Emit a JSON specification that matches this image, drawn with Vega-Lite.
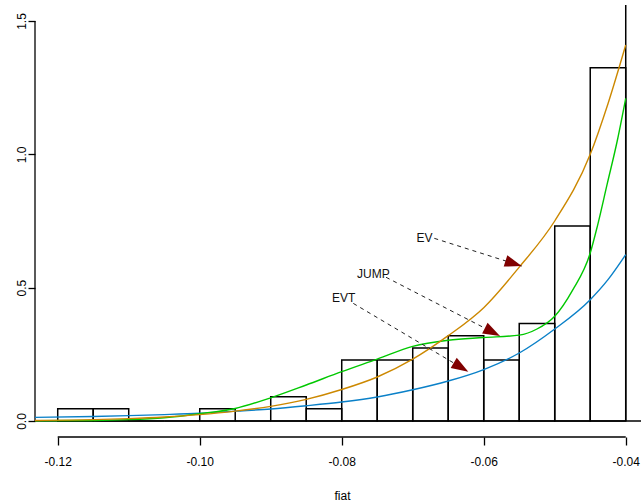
{
  "$schema": "https://vega.github.io/schema/vega-lite/v6.json",
  "width": 606,
  "height": 432,
  "autosize": {"type": "none"},
  "padding": {"left": 35, "top": 5, "right": 0, "bottom": 67},
  "background": "white",
  "config": {"font": "Liberation Sans", "view": {"stroke": null}, "axis": {"grid": false}},
  "datasets": {
    "hist": [
      {"x0": -0.120, "x1": -0.115, "density": 0.0457},
      {"x0": -0.115, "x1": -0.110, "density": 0.0457},
      {"x0": -0.110, "x1": -0.105, "density": 0},
      {"x0": -0.105, "x1": -0.100, "density": 0},
      {"x0": -0.100, "x1": -0.095, "density": 0.0457},
      {"x0": -0.095, "x1": -0.090, "density": 0},
      {"x0": -0.090, "x1": -0.085, "density": 0.0914},
      {"x0": -0.085, "x1": -0.080, "density": 0.0457},
      {"x0": -0.080, "x1": -0.075, "density": 0.2284},
      {"x0": -0.075, "x1": -0.070, "density": 0.2284},
      {"x0": -0.070, "x1": -0.065, "density": 0.2741},
      {"x0": -0.065, "x1": -0.060, "density": 0.3198},
      {"x0": -0.060, "x1": -0.055, "density": 0.2284},
      {"x0": -0.055, "x1": -0.050, "density": 0.3654},
      {"x0": -0.050, "x1": -0.045, "density": 0.7310},
      {"x0": -0.045, "x1": -0.040, "density": 1.3247}
    ],
    "curves": [
      {"model": "EVT", "x": -0.1232, "y": 0.0135},
      {"model": "EVT", "x": -0.115, "y": 0.017},
      {"model": "EVT", "x": -0.110, "y": 0.020},
      {"model": "EVT", "x": -0.105, "y": 0.024},
      {"model": "EVT", "x": -0.100, "y": 0.029},
      {"model": "EVT", "x": -0.095, "y": 0.037},
      {"model": "EVT", "x": -0.090, "y": 0.045},
      {"model": "EVT", "x": -0.085, "y": 0.057},
      {"model": "EVT", "x": -0.080, "y": 0.071},
      {"model": "EVT", "x": -0.075, "y": 0.090},
      {"model": "EVT", "x": -0.070, "y": 0.117},
      {"model": "EVT", "x": -0.065, "y": 0.150},
      {"model": "EVT", "x": -0.060, "y": 0.193},
      {"model": "EVT", "x": -0.055, "y": 0.255},
      {"model": "EVT", "x": -0.050, "y": 0.345},
      {"model": "EVT", "x": -0.045, "y": 0.455},
      {"model": "EVT", "x": -0.0425, "y": 0.53},
      {"model": "EVT", "x": -0.040, "y": 0.624},
      {"model": "JUMP", "x": -0.1232, "y": 0.001},
      {"model": "JUMP", "x": -0.115, "y": 0.002},
      {"model": "JUMP", "x": -0.110, "y": 0.005},
      {"model": "JUMP", "x": -0.105, "y": 0.012},
      {"model": "JUMP", "x": -0.100, "y": 0.027},
      {"model": "JUMP", "x": -0.095, "y": 0.047},
      {"model": "JUMP", "x": -0.090, "y": 0.087},
      {"model": "JUMP", "x": -0.085, "y": 0.135},
      {"model": "JUMP", "x": -0.080, "y": 0.185},
      {"model": "JUMP", "x": -0.075, "y": 0.232},
      {"model": "JUMP", "x": -0.070, "y": 0.280},
      {"model": "JUMP", "x": -0.065, "y": 0.303},
      {"model": "JUMP", "x": -0.060, "y": 0.313},
      {"model": "JUMP", "x": -0.055, "y": 0.322},
      {"model": "JUMP", "x": -0.0525, "y": 0.345},
      {"model": "JUMP", "x": -0.050, "y": 0.393},
      {"model": "JUMP", "x": -0.0475, "y": 0.49},
      {"model": "JUMP", "x": -0.045, "y": 0.63},
      {"model": "JUMP", "x": -0.044, "y": 0.73},
      {"model": "JUMP", "x": -0.0426, "y": 0.89},
      {"model": "JUMP", "x": -0.0412, "y": 1.05},
      {"model": "JUMP", "x": -0.040, "y": 1.21},
      {"model": "EV", "x": -0.1232, "y": 0.002},
      {"model": "EV", "x": -0.115, "y": 0.005},
      {"model": "EV", "x": -0.110, "y": 0.009},
      {"model": "EV", "x": -0.105, "y": 0.015},
      {"model": "EV", "x": -0.100, "y": 0.024},
      {"model": "EV", "x": -0.095, "y": 0.037},
      {"model": "EV", "x": -0.090, "y": 0.055},
      {"model": "EV", "x": -0.085, "y": 0.081},
      {"model": "EV", "x": -0.080, "y": 0.118},
      {"model": "EV", "x": -0.075, "y": 0.165},
      {"model": "EV", "x": -0.070, "y": 0.232},
      {"model": "EV", "x": -0.065, "y": 0.320},
      {"model": "EV", "x": -0.060, "y": 0.425},
      {"model": "EV", "x": -0.055, "y": 0.577},
      {"model": "EV", "x": -0.050, "y": 0.750},
      {"model": "EV", "x": -0.045, "y": 1.000},
      {"model": "EV", "x": -0.0425, "y": 1.19},
      {"model": "EV", "x": -0.040, "y": 1.41}
    ],
    "notes": [
      {"label": "EV", "tx": -0.06834, "ty": 0.686, "x0": -0.06696, "y0": 0.685, "x1": -0.05465, "y1": 0.581},
      {"label": "JUMP", "tx": -0.07555, "ty": 0.551, "x0": -0.07376, "y0": 0.539, "x1": -0.05771, "y1": 0.319},
      {"label": "EVT", "tx": -0.07972, "ty": 0.460, "x0": -0.07837, "y0": 0.441, "x1": -0.06217, "y1": 0.185}
    ]
  },
  "layer": [
    {
      "data": {"name": "hist"},
      "mark": {"type": "rect", "fill": "transparent", "stroke": "black", "strokeWidth": 1.5},
      "encoding": {
        "x": {"field": "x0", "type": "quantitative", "title": "fiat",
              "scale": {"domain": [-0.1232, -0.03785], "nice": false, "zero": false},
              "axis": {"values": [-0.12, -0.10, -0.08, -0.06, -0.04], "domain": false, "ticks": true, "labels": true, "tickSize": 8, "tickColor": "black", "tickWidth": 1.3,
                       "labelExpr": "replace(format(datum.value, '.2f'), '\u2212', '-')", "labelFontSize": 12, "labelColor": "black", "labelPadding": 11,
                       "labelDx": 2, "labelFlush": false, "labelOverlap": false, "labelBound": false,
                       "title": "fiat", "titleFontWeight": "normal", "titleFontSize": 12, "titleColor": "black", "titleX": 307, "titleY": 62, "titleBaseline": "alphabetic", "titleAlign": "center"}},
        "x2": {"field": "x1"},
        "y": {"field": "density", "type": "quantitative", "title": null,
              "scale": {"domain": [-0.06, 1.56], "nice": false, "zero": false},
              "axis": {"values": [0, 0.5, 1, 1.5], "format": ".1f", "domain": false, "ticks": true, "labels": true, "tickSize": 7, "tickColor": "black", "tickWidth": 1.3,
                       "labelAngle": -90, "labelAlign": "center", "labelBaseline": "alphabetic", "labelPadding": 2.5,
                       "labelFontSize": 12, "labelColor": "black", "labelFlush": false, "labelOverlap": false, "labelBound": false, "title": null}},
        "y2": {"datum": 0}
      }
    },
    {
      "data": {"values": [{}]},
      "mark": {"type": "rule", "color": "black", "strokeWidth": 1.3},
      "encoding": {
        "y": {"datum": 0, "type": "quantitative"}
      }
    },
    {
      "data": {"values": [{}]},
      "mark": {"type": "rule", "color": "black", "strokeWidth": 1.5},
      "encoding": {
        "x": {"datum": -0.04, "type": "quantitative"},
        "y": {"datum": 0, "type": "quantitative"},
        "y2": {"datum": 1.56}
      }
    },
    {
      "data": {"values": [{}]},
      "mark": {"type": "rule", "color": "black", "strokeWidth": 1.3},
      "encoding": {
        "x": {"datum": -0.12, "type": "quantitative"},
        "x2": {"datum": -0.04},
        "y": {"datum": -0.06, "type": "quantitative"}
      }
    },
    {
      "data": {"values": [{}]},
      "mark": {"type": "rule", "color": "black", "strokeWidth": 1.3},
      "encoding": {
        "x": {"datum": -0.1232, "type": "quantitative"},
        "y": {"datum": 0, "type": "quantitative"},
        "y2": {"datum": 1.5}
      }
    },
    {
      "data": {"name": "curves"},
      "mark": {"type": "line", "strokeWidth": 1.4, "interpolate": "monotone"},
      "encoding": {
        "x": {"field": "x", "type": "quantitative", "title": "fiat"},
        "y": {"field": "y", "type": "quantitative", "title": null},
        "color": {"field": "model", "type": "nominal", "scale": {"domain": ["EV", "JUMP", "EVT"], "range": ["#CC8800", "#00C800", "#0A80C8"]}, "legend": null},
        "order": {"field": "x", "type": "quantitative"}
      }
    },
    {
      "data": {"name": "notes"},
      "mark": {"type": "rule", "color": "#222222", "strokeWidth": 1, "strokeDash": [4, 4]},
      "encoding": {
        "x": {"field": "x0", "type": "quantitative", "title": "fiat"},
        "y": {"field": "y0", "type": "quantitative", "title": null},
        "x2": {"field": "x1"},
        "y2": {"field": "y1"}
      }
    },
    {
      "data": {"name": "notes"},
      "mark": {"type": "text", "fontSize": 12, "color": "#111111", "align": "center", "baseline": "middle"},
      "encoding": {
        "x": {"field": "tx", "type": "quantitative", "title": "fiat"},
        "y": {"field": "ty", "type": "quantitative", "title": null},
        "text": {"field": "label"}
      }
    },
    {
      "data": {"name": "notes"},
      "transform": [{"filter": "datum.label === 'EV'"}],
      "mark": {"type": "point", "shape": "M0,0L-2,-0.7L-2,0.7Z", "size": 289, "filled": true, "color": "#800000", "opacity": 1, "angle": 17.6},
      "encoding": {
        "x": {"field": "x1", "type": "quantitative", "title": "fiat"},
        "y": {"field": "y1", "type": "quantitative", "title": null}
      }
    },
    {
      "data": {"name": "notes"},
      "transform": [{"filter": "datum.label === 'JUMP'"}],
      "mark": {"type": "point", "shape": "M0,0L-2,-0.7L-2,0.7Z", "size": 289, "filled": true, "color": "#800000", "opacity": 1, "angle": 27.2},
      "encoding": {
        "x": {"field": "x1", "type": "quantitative", "title": "fiat"},
        "y": {"field": "y1", "type": "quantitative", "title": null}
      }
    },
    {
      "data": {"name": "notes"},
      "transform": [{"filter": "datum.label === 'EVT'"}],
      "mark": {"type": "point", "shape": "M0,0L-2,-0.7L-2,0.7Z", "size": 289, "filled": true, "color": "#800000", "opacity": 1, "angle": 30.7},
      "encoding": {
        "x": {"field": "x1", "type": "quantitative", "title": "fiat"},
        "y": {"field": "y1", "type": "quantitative", "title": null}
      }
    }
  ]
}
